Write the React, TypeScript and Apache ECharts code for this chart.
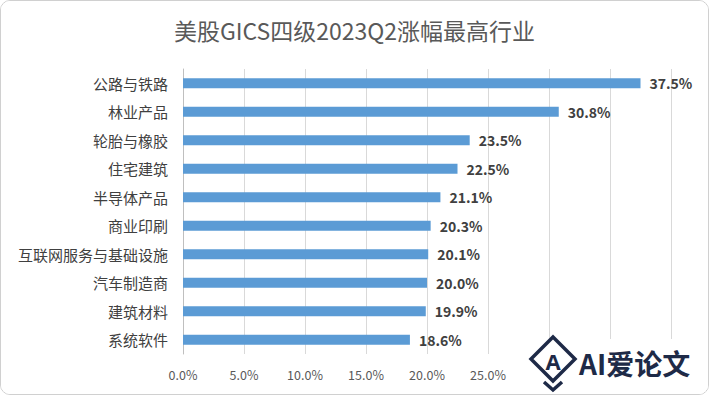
import React, { useEffect, useRef } from "react";
import * as echarts from "echarts";

const categories = [
  "公路与铁路",
  "林业产品",
  "轮胎与橡胶",
  "住宅建筑",
  "半导体产品",
  "商业印刷",
  "互联网服务与基础设施",
  "汽车制造商",
  "建筑材料",
  "系统软件",
];
const values = [37.5, 30.8, 23.5, 22.5, 21.1, 20.3, 20.1, 20.0, 19.9, 18.6];
const titleText = "美股GICS四级2023Q2涨幅最高行业";
const watermarkText = "AI爱论文";
const hiddenTickFrom = 30; // ticks covered by the watermark in the reference

const FONT = "'Noto Sans CJK SC', 'Open Sans', sans-serif";

export default function App() {
  const ref = useRef<HTMLDivElement>(null);
  useEffect(() => {
    if (!ref.current) return;
    const chart = echarts.init(ref.current, null, { renderer: "svg" });
    chart.setOption({
      animation: false,
      backgroundColor: "#ffffff",
      title: {
        text: titleText,
        left: "center",
        top: 12,
        textStyle: { fontFamily: FONT, fontSize: 23, fontWeight: "normal", color: "#595959" },
      },
      grid: { left: 182, right: 37, top: 68, bottom: 40, containLabel: false },
      xAxis: {
        type: "value",
        min: 0,
        max: 40,
        interval: 5,
        axisLine: { show: false },
        axisTick: { show: false },
        splitLine: { show: true, lineStyle: { color: "#d9d9d9", width: 1 } },
        axisLabel: {
          fontFamily: FONT,
          fontSize: 12.5,
          color: "#595959",
          margin: 14,
          formatter: (v: number) => (v >= hiddenTickFrom ? "" : v.toFixed(1) + "%"),
        },
      },
      yAxis: {
        type: "category",
        data: categories,
        inverse: true,
        axisLine: { show: true, lineStyle: { color: "#bfbfbf" } },
        axisTick: { show: false },
        axisLabel: { fontFamily: FONT, fontSize: 15, color: "#404040", margin: 15 },
      },
      series: [
        {
          type: "bar",
          data: values,
          barWidth: 10,
          itemStyle: { color: "#5b9bd5" },
          label: {
            show: true,
            position: "right",
            distance: 9,
            fontFamily: FONT,
            fontSize: 14,
            fontWeight: "bold",
            color: "#404040",
            formatter: (p: any) => Number(p.value).toFixed(1) + "%",
          },
        },
      ],
      graphic: [
        {
          type: "rect",
          shape: { x: 515, y: 338, width: 192, height: 56 },
          style: { fill: "#ffffff" },
          z: 100,
        },
        {
          type: "polygon",
          shape: { points: [[552, 336], [574, 358], [552, 380], [530, 358]] },
          style: { fill: "none", stroke: "#1e2a47", lineWidth: 3.5 },
          z: 101,
        },
        {
          type: "polyline",
          shape: { points: [[543, 381], [552, 389], [561, 381]] },
          style: { stroke: "#1e2a47", lineWidth: 3.5, fill: "none" },
          z: 101,
        },
        {
          type: "text",
          x: 552,
          y: 360,
          style: {
            text: "A",
            font: "bold 22px 'Open Sans', sans-serif",
            fill: "#1e2a47",
            align: "center",
            verticalAlign: "middle",
          },
          z: 101,
        },
        {
          type: "text",
          x: 578,
          y: 362,
          style: {
            text: watermarkText,
            font: "bold 28px 'Noto Sans CJK SC', sans-serif",
            fill: "#1e2a47",
            align: "left",
            verticalAlign: "middle",
          },
          z: 101,
        },
      ],
    });
    return () => chart.dispose();
  }, []);
  return (
    <div
      style={{
        position: "absolute",
        left: 0,
        top: 0,
        width: 709,
        height: 395,
        boxSizing: "border-box",
        border: "1px solid #d0d0d0",
        borderRadius: 10,
        overflow: "hidden",
        background: "#fff",
      }}
    >
      <div ref={ref} style={{ width: 707, height: 393 }} />
    </div>
  );
}
